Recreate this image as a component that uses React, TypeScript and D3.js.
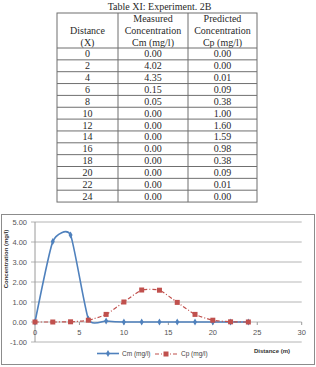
import React from 'react';
import * as d3 from 'd3';

// Experiment 2B: measured vs predicted concentration along distance
const distance = [0, 2, 4, 6, 8, 10, 12, 14, 16, 18, 20, 22, 24];
const measured = [0.0, 4.02, 4.35, 0.15, 0.05, 0.0, 0.0, 0.0, 0.0, 0.0, 0.0, 0.0, 0.0];
const predicted = [0.0, 0.0, 0.01, 0.09, 0.38, 1.0, 1.6, 1.59, 0.98, 0.38, 0.09, 0.01, 0.0];

const tableTitle = 'Table XI: Experiment. 2B';
const headerLines = [
  ['', 'Distance', '(X)'],
  ['Measured', 'Concentration', 'Cm (mg/l)'],
  ['Predicted', 'Concentration', 'Cp (mg/l)'],
];

const yTicks = [-1, 0, 1, 2, 3, 4, 5];
const xTicks = [0, 5, 10, 15, 20, 25, 30];
const seriesNames = ['Cm (mg/l)', 'Cp (mg/l)'];

const BLUE = '#4f81bd';
const RED = '#c0504d';
const serif = '"Liberation Serif", "Times New Roman", serif';
const sans = '"Liberation Sans", Arial, sans-serif';

function DataTable() {
  const cols = [57, 118, 188, 257];
  const top = 13;
  const headBottom = 48;
  const rowH = 11.85;
  const bottom = headBottom + rowH * distance.length;
  const centers = cols.slice(0, 3).map((c, i) => (c + cols[i + 1]) / 2);
  const rows = distance.map((d, i) => [String(d), measured[i].toFixed(2), predicted[i].toFixed(2)]);

  return (
    <g fontFamily={serif} fontSize={10} fill="#2a2a2a" textAnchor="middle">
      <text x={159.5} y={9.5}>{tableTitle}</text>
      {headerLines.map((lines, c) =>
        lines.map((t, l) => (
          <text key={`h${c}${l}`} x={centers[c]} y={21.5 + l * 12}>{t}</text>
        ))
      )}
      {rows.map((r, i) =>
        r.map((t, c) => (
          <text key={`r${i}${c}`} x={centers[c]} y={headBottom + rowH * (i + 0.5) + 3.5}>{t}</text>
        ))
      )}
      <g stroke="#6f6f6f" strokeWidth={1} fill="none">
        <rect x={cols[0]} y={top} width={cols[3] - cols[0]} height={bottom - top} />
        {cols.slice(1, 3).map((c) => (
          <line key={c} x1={c} x2={c} y1={top} y2={bottom} />
        ))}
        {d3.range(distance.length).map((i) => (
          <line key={i} x1={cols[0]} x2={cols[3]} y1={headBottom + rowH * i} y2={headBottom + rowH * i} />
        ))}
      </g>
    </g>
  );
}

function Chart() {
  const x = d3.scaleLinear().domain([0, 30]).range([35, 301.7]);
  const y = d3.scaleLinear().domain([-1, 5]).range([342, 222]);
  const curve = d3.curveCardinal.tension(0.45);

  const seriesLine = d3
    .line<number>()
    .x((_, i) => x(distance[i]))
    .y((d) => y(d))
    .curve(curve);

  const diamond = d3.symbol(d3.symbolDiamond, 14)();
  const square = 5;

  return (
    <g>
      <rect x={1.5} y={214.5} width={313} height={150} fill="#fff" stroke="#8c8c8c" />
      {yTicks.map((t) => (
        <g key={t}>
          <line
            x1={31}
            x2={x(30)}
            y1={y(t)}
            y2={y(t)}
            stroke={t === 2 ? '#dcdcdc' : '#b4b4b4'}
            strokeWidth={t === 2 ? 2.2 : 1}
          />
          <text x={27} y={y(t) + 2.6} textAnchor="end" fontFamily={sans} fontSize={7.5} fill="#555">
            {t.toFixed(2)}
          </text>
        </g>
      ))}
      <line x1={35} x2={35} y1={y(5)} y2={y(-1)} stroke="#9a9a9a" />
      {xTicks.map((t) => (
        <g key={t}>
          <line x1={x(t)} x2={x(t)} y1={y(0)} y2={y(0) + 3} stroke="#9a9a9a" />
          <text x={x(t)} y={335} textAnchor="middle" fontFamily={sans} fontSize={7.5} fill="#555">
            {t}
          </text>
        </g>
      ))}
      <text
        transform={`translate(8,259) rotate(-90)`}
        textAnchor="middle"
        fontFamily={sans}
        fontSize={6}
        fontWeight="bold"
        fill="#333"
      >
        Concentration (mg/l)
      </text>
      <text x={272} y={353} textAnchor="middle" fontFamily={sans} fontSize={6} fontWeight="bold" fill="#333">
        Distance (m)
      </text>

      <path d={seriesLine(measured) ?? ''} fill="none" stroke={BLUE} strokeWidth={1.6} />
      {measured.map((v, i) => (
        <path key={i} d={diamond} transform={`translate(${x(distance[i])},${y(v)})`} fill={BLUE} />
      ))}

      <path d={seriesLine(predicted) ?? ''} fill="none" stroke={RED} strokeWidth={1.2} strokeDasharray="4 2 1 2" />
      {predicted.map((v, i) => (
        <rect
          key={i}
          x={x(distance[i]) - square / 2}
          y={y(v) - square / 2}
          width={square}
          height={square}
          fill={RED}
        />
      ))}

      {/* legend */}
      <g fontFamily={sans} fontSize={6.5} fill="#444">
        <line x1={97} x2={119} y1={353.5} y2={353.5} stroke={BLUE} strokeWidth={1.6} />
        <path d={diamond} transform="translate(108,353.5)" fill={BLUE} />
        <text x={122} y={355.8}>{seriesNames[0]}</text>
        <line x1={155} x2={177} y1={354} y2={354} stroke={RED} strokeWidth={1.2} strokeDasharray="4 2 1 2" />
        <rect x={166 - square / 2} y={354 - square / 2} width={square} height={square} fill={RED} />
        <text x={181} y={356.3}>{seriesNames[1]}</text>
      </g>
    </g>
  );
}

export default function App() {
  return (
    <svg width={316} height={367} style={{ position: 'absolute', left: 0, top: 0, background: '#fff' }}>
      <DataTable />
      <Chart />
    </svg>
  );
}
